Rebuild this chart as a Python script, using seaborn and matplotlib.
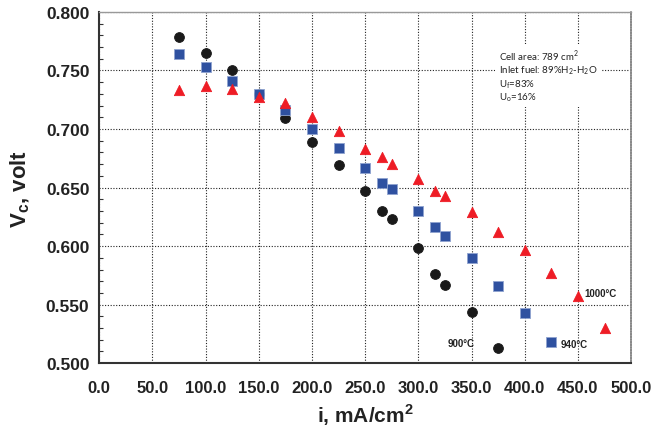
import matplotlib
matplotlib.use("Agg")
import matplotlib.pyplot as plt
from matplotlib.ticker import MultipleLocator, FormatStrFormatter
import seaborn as sns
import pandas as pd

# data
current_900 = [75, 100, 125, 150, 175, 200, 225, 250, 266, 275, 300, 316, 325, 350, 375]
volt_900 = [0.779, 0.765, 0.750, 0.730, 0.709, 0.689, 0.669, 0.647, 0.630, 0.623,
            0.598, 0.576, 0.567, 0.544, 0.513]

current_940 = [75, 100, 125, 150, 175, 200, 225, 250, 266, 275, 300, 316, 325, 350,
               375, 400, 425]
volt_940 = [0.764, 0.753, 0.741, 0.730, 0.716, 0.700, 0.684, 0.667, 0.654, 0.649,
            0.630, 0.616, 0.609, 0.590, 0.566, 0.543, 0.518]

current_1000 = [75, 100, 125, 150, 175, 200, 225, 250, 266, 275, 300, 316, 325, 350,
                375, 400, 425, 450, 475]
volt_1000 = [0.733, 0.737, 0.734, 0.727, 0.722, 0.710, 0.698, 0.683, 0.676, 0.670,
             0.657, 0.647, 0.643, 0.629, 0.612, 0.597, 0.577, 0.557, 0.530]

temps = ['900', '940', '1000']
info_lines = ['Cell area: 789 cm$^{\\mathregular{2}}$',
              'Inlet fuel: 89%H$_{\\mathregular{2}}$-H$_{\\mathregular{2}}$O',
              'U$_{\\mathregular{f}}$=83%',
              'U$_{\\mathregular{o}}$=16%']

df = pd.concat([
    pd.DataFrame({'i': current_900, 'V': volt_900, 'T': '900'}),
    pd.DataFrame({'i': current_940, 'V': volt_940, 'T': '940'}),
    pd.DataFrame({'i': current_1000, 'V': volt_1000, 'T': '1000'}),
])

sns.set_style('white')
plt.rcParams['font.family'] = ['Liberation Sans', 'DejaVu Sans']

palette = {'900': '#1a1a1a', '940': '#2f51a0', '1000': '#ee1c25'}
markers = {'900': 'o', '940': 's', '1000': '^'}
edges = {'900': '#1a1a1a', '940': '#8fa3cf', '1000': '#ee1c25'}

fig = plt.figure(figsize=(6.52, 4.31), dpi=100)
ax = fig.add_axes([0.152, 0.155, 0.816, 0.815])

for t in temps:
    sub = df[df['T'] == t]
    sns.scatterplot(data=sub, x='i', y='V', color=palette[t], marker=markers[t],
                    s=50 if t != '1000' else 55, edgecolor=edges[t], linewidth=0.6,
                    ax=ax, legend=False, zorder=3)

ax.set_xlim(0, 500)
ax.set_ylim(0.5, 0.8)
ax.xaxis.set_major_locator(MultipleLocator(50))
ax.xaxis.set_major_formatter(FormatStrFormatter('%.1f'))
ax.yaxis.set_major_locator(MultipleLocator(0.05))
ax.yaxis.set_minor_locator(MultipleLocator(0.01))
ax.yaxis.set_major_formatter(FormatStrFormatter('%.3f'))

ax.grid(True, which='major', color='#222222', linestyle=(0, (1, 1.5)), linewidth=0.8)
ax.set_axisbelow(True)

ax.tick_params(axis='both', which='major', direction='out', length=3, width=1,
               color='#333333', labelsize=12.5, pad=4)
ax.tick_params(axis='x', which='major', labelsize=12, pad=9)
ax.tick_params(axis='y', which='minor', direction='in', length=3, width=0.8,
               color='#333333', left=True)
for lab in ax.get_xticklabels() + ax.get_yticklabels():
    lab.set_fontweight('bold')
    lab.set_color('#222222')

for side in ['left', 'bottom']:
    ax.spines[side].set_color('#333333')
    ax.spines[side].set_linewidth(1.5)
ax.spines['top'].set_color('#999999')
ax.spines['top'].set_linewidth(1.0)
ax.spines['right'].set_color('#888888')
ax.spines['right'].set_linewidth(1.2)
ax.spines['right'].set_linestyle((0, (1, 0.6)))

ax.set_xlabel('i, mA/cm$^{\\mathregular{2}}$', fontsize=15, fontweight='bold',
              color='#222222', labelpad=5)
ax.set_ylabel('V$_{\\mathregular{c}}$, volt', fontsize=16, fontweight='bold',
              color='#222222', labelpad=10)

# temperature labels
ax.text(340, 0.5171, '900\u00b0C', fontsize=7, fontweight='bold', ha='center', va='center',
        color='#222222')
ax.text(434, 0.516, '940\u00b0C', fontsize=7, fontweight='bold', ha='left', va='center',
        color='#222222')
ax.text(456, 0.5597, '1000\u00b0C', fontsize=7, fontweight='bold', ha='left', va='center',
        color='#222222')

# info box, white behind so the gridline is broken like in the original
ax.text(376, 0.7695, '\n'.join(info_lines), fontsize=7, family=['Lato', 'DejaVu Sans'],
        color='#222222', va='top', ha='left', linespacing=1.07,
        bbox=dict(facecolor='white', edgecolor='none', pad=3))

fig.savefig('out.png', dpi=100)
